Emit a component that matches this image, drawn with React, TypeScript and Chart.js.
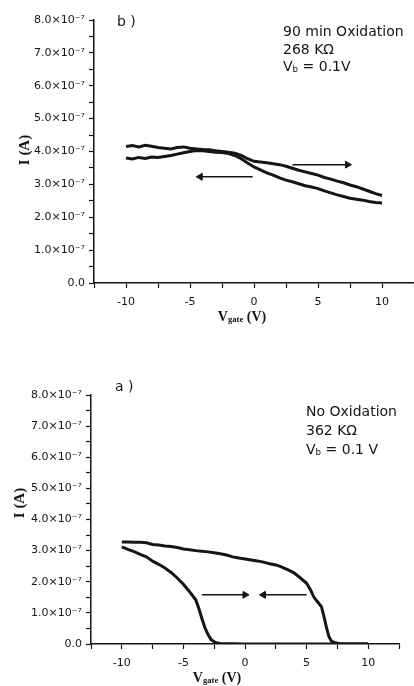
import React, { useEffect, useRef } from "react";
import { Chart, registerables } from "chart.js";

Chart.register(...registerables);

// ---------- Panel b) 90 min Oxidation (current in units of 1e-7 A) ----------
const vgateB = [
  -10, -9.5, -9, -8.5, -8, -7.5, -7, -6.5, -6, -5.5, -5, -4.5, -4, -3.5, -3, -2.5, -2, -1.5, -1, -0.5,
  0, 0.5, 1, 1.5, 2, 2.5, 3, 3.5, 4, 4.5, 5, 5.5, 6, 6.5, 7, 7.5, 8, 8.5, 9, 9.5, 10,
];
const currentB_sweepA = [
  4.15, 4.18, 4.14, 4.19, 4.16, 4.12, 4.1, 4.08, 4.12, 4.14, 4.1, 4.08, 4.06, 4.05, 4.02, 4.0, 3.98, 3.95, 3.88, 3.78,
  3.7, 3.68, 3.66, 3.63, 3.6, 3.55, 3.49, 3.43, 3.38, 3.33, 3.28, 3.21, 3.16, 3.1, 3.05, 2.98, 2.93, 2.86, 2.79, 2.72, 2.66,
];
const currentB_sweepB = [
  3.8, 3.77, 3.82, 3.79, 3.83, 3.82, 3.85, 3.88, 3.92, 3.96, 4.0, 4.03, 4.02, 4.0, 3.98, 3.97, 3.94, 3.88, 3.78, 3.65,
  3.53, 3.44, 3.35, 3.28, 3.2, 3.13, 3.08, 3.02, 2.96, 2.92, 2.87, 2.8, 2.74, 2.68, 2.63, 2.58, 2.55, 2.52, 2.48, 2.45, 2.43,
];
const arrowB_rightX = [3.0, 7.3];
const arrowB_rightY = 3.6;
const arrowB_leftX = [-0.1, -4.2];
const arrowB_leftY = 3.23;

// ---------- Panel a) No Oxidation (current in units of 1e-7 A) ----------
const vgateA_upper = [
  -10, -9.5, -9, -8.5, -8, -7.5, -7, -6.5, -6, -5.5, -5, -4.5, -4, -3.5, -3, -2.5, -2, -1.5, -1, -0.5,
  0, 0.5, 1, 1.5, 2, 2.5, 3, 3.5, 4, 4.5, 5, 5.3, 5.6, 5.9, 6.2, 6.4, 6.6, 6.8, 7.0, 7.3, 7.6, 8, 9, 10,
];
const currentA_upper = [
  3.28, 3.28, 3.27, 3.27, 3.25, 3.2, 3.18, 3.15, 3.13, 3.1, 3.05, 3.03, 3.0, 2.98, 2.96, 2.93, 2.9, 2.86, 2.8, 2.76,
  2.73, 2.7, 2.67, 2.63, 2.58, 2.54, 2.47, 2.38, 2.28, 2.12, 1.95, 1.75, 1.5, 1.35, 1.2, 0.9, 0.55, 0.25, 0.1, 0.04, 0.02, 0.01, 0.0, 0.0,
];
const vgateA_lower = [
  -10, -9.5, -9, -8.5, -8, -7.5, -7, -6.5, -6, -5.5, -5, -4.5, -4.25, -4, -3.75, -3.5, -3.25, -3, -2.75, -2.5,
  -2.25, -2, -1, 0, 2, 4, 6, 8, 10,
];
const currentA_lower = [
  3.12, 3.04, 2.97, 2.88, 2.8, 2.66, 2.56, 2.44, 2.3, 2.12, 1.92, 1.68, 1.55, 1.42, 1.15, 0.82, 0.52, 0.3, 0.14, 0.07,
  0.03, 0.02, 0.01, 0.0, 0.0, 0.0, 0.0, 0.0, 0.0,
];
const arrowA_rightX = [-3.5, 0];
const arrowA_rightY = 1.58;
const arrowA_leftX = [5.0, 1.5];
const arrowA_leftY = 1.58;

// ---------- Axis ticks ----------
const xMajorTicks = [-10, -5, 0, 5, 10];
const yMajorTicks = [0, 1, 2, 3, 4, 5, 6, 7, 8];

const INK = "#151515";
const TICK_FONT = { family: "DejaVu Sans", size: 11 };

const toPoints = (xs: number[], ys: number[]) => xs.map((x, i) => ({ x, y: ys[i] }));

const curveDataset = (xs: number[], ys: number[]) => ({
  data: toPoints(xs, ys),
  borderColor: INK,
  borderWidth: 3,
  pointRadius: 0,
  tension: 0,
  fill: false,
});

const arrowDataset = (xs: number[], y: number, dir: 1 | -1) => ({
  data: toPoints(xs, xs.map(() => y)),
  borderColor: INK,
  borderWidth: 1.5,
  pointStyle: "triangle",
  pointRadius: (ctx: any) => (ctx.dataIndex === xs.length - 1 ? 4 : 0),
  pointRotation: dir === 1 ? 90 : -90,
  pointBackgroundColor: INK,
  pointBorderColor: INK,
  pointBorderWidth: 1,
  tension: 0,
  fill: false,
});

const makeOptions = (yWidth: number, xHeight: number, padding: any) => ({
  animation: false,
  responsive: false,
  maintainAspectRatio: false,
  layout: { padding, autoPadding: false },
  plugins: { legend: { display: false }, tooltip: { enabled: false }, title: { display: false } },
  scales: {
    x: {
      type: "linear",
      min: -12.5,
      max: 12.5,
      afterFit: (s: any) => {
        s.height = xHeight;
        s.paddingLeft = 0;
        s.paddingRight = 0;
      },
      border: { color: INK, width: 1.5 },
      grid: { drawOnChartArea: false, drawTicks: true, tickLength: 5, tickColor: INK, tickWidth: 1.2 },
      ticks: {
        stepSize: 2.5,
        autoSkip: false,
        maxRotation: 0,
        padding: 8,
        color: INK,
        font: TICK_FONT,
        callback: (v: number) => {
          const r = Math.round(v * 10) / 10;
          return xMajorTicks.some((t) => Math.abs(t - r) < 1e-6) ? String(r) : "";
        },
      },
    },
    y: {
      type: "linear",
      min: 0,
      max: 8,
      afterFit: (s: any) => {
        s.width = yWidth;
      },
      border: { color: INK, width: 1.5 },
      grid: { drawOnChartArea: false, drawTicks: true, tickLength: 5, tickColor: INK, tickWidth: 1.2 },
      ticks: {
        stepSize: 0.5,
        autoSkip: false,
        padding: 4,
        color: INK,
        font: TICK_FONT,
        callback: (v: number) => {
          const t = yMajorTicks.find((m) => Math.abs(m - v) < 1e-6);
          if (t === undefined) return "";
          return t === 0 ? "0.0" : `${t.toFixed(1)}×10⁻⁷`;
        },
      },
    },
  },
});

function Panel(props: { datasets: any[]; yWidth: number; xHeight: number; padding: any; width: number; height: number }) {
  const ref = useRef<HTMLCanvasElement | null>(null);
  useEffect(() => {
    if (!ref.current) return;
    const chart = new Chart(ref.current, {
      type: "line",
      data: { datasets: props.datasets },
      options: makeOptions(props.yWidth, props.xHeight, props.padding) as any,
    });
    return () => chart.destroy();
  }, []);
  return (
    <canvas
      ref={ref}
      width={props.width}
      height={props.height}
      style={{ display: "block", width: props.width, height: props.height }}
    />
  );
}

const annot: React.CSSProperties = {
  position: "absolute",
  fontFamily: "DejaVu Sans",
  fontSize: 14,
  color: INK,
  whiteSpace: "nowrap",
};
const axisTitle: React.CSSProperties = {
  position: "absolute",
  fontFamily: "Liberation Serif",
  fontWeight: "bold",
  fontSize: 15,
  color: INK,
  whiteSpace: "nowrap",
  transform: "translate(-50%, -50%)",
  lineHeight: 1,
};
const subStyle: React.CSSProperties = { fontSize: "0.62em", verticalAlign: "-0.15em", lineHeight: 0 };

export default function App() {
  const datasetsB = [
    curveDataset(vgateB, currentB_sweepA),
    curveDataset(vgateB, currentB_sweepB),
    arrowDataset(arrowB_rightX, arrowB_rightY, 1),
    arrowDataset(arrowB_leftX, arrowB_leftY, -1),
  ];
  const datasetsA = [
    curveDataset(vgateA_upper, currentA_upper),
    curveDataset(vgateA_lower, currentA_lower),
    arrowDataset(arrowA_rightX, arrowA_rightY, 1),
    arrowDataset(arrowA_leftX, arrowA_leftY, -1),
  ];
  return (
    <div style={{ position: "absolute", left: 0, top: 0, width: 414, height: 686, background: "#fff", overflow: "hidden" }}>
      <div style={{ position: "absolute", left: 0, top: 0 }}>
        <Panel datasets={datasetsB} yWidth={94} xHeight={47} padding={{ top: 20, right: 0, left: 0, bottom: 0 }} width={414} height={330} />
      </div>
      <div style={{ position: "absolute", left: 0, top: 340 }}>
        <Panel datasets={datasetsA} yWidth={91} xHeight={42} padding={{ top: 55, right: 15, left: 0, bottom: 0 }} width={414} height={346} />
      </div>

      {/* Panel b annotations */}
      <div style={{ ...annot, left: 117, top: 13 }}>b )</div>
      <div style={{ ...annot, left: 283, top: 23, lineHeight: "17.5px" }}>
        <div>90 min Oxidation</div>
        <div>268 KΩ</div>
        <div>
          V<span style={subStyle}>b</span> = 0.1V
        </div>
      </div>
      <div style={{ ...axisTitle, left: 24, top: 150, transform: "translate(-50%, -50%) rotate(-90deg)" }}>I (A)</div>
      <div style={{ ...axisTitle, left: 242, top: 317, fontSize: 14 }}>
        V<span style={subStyle}>gate</span> (V)
      </div>

      {/* Panel a annotations */}
      <div style={{ ...annot, left: 115, top: 378 }}>a )</div>
      <div style={{ ...annot, left: 306, top: 402, lineHeight: "19px" }}>
        <div>No Oxidation</div>
        <div>362 KΩ</div>
        <div>
          V<span style={subStyle}>b</span> = 0.1 V
        </div>
      </div>
      <div style={{ ...axisTitle, left: 19, top: 503, transform: "translate(-50%, -50%) rotate(-90deg)" }}>I (A)</div>
      <div style={{ ...axisTitle, left: 217, top: 678, fontSize: 14 }}>
        V<span style={subStyle}>gate</span> (V)
      </div>
    </div>
  );
}
